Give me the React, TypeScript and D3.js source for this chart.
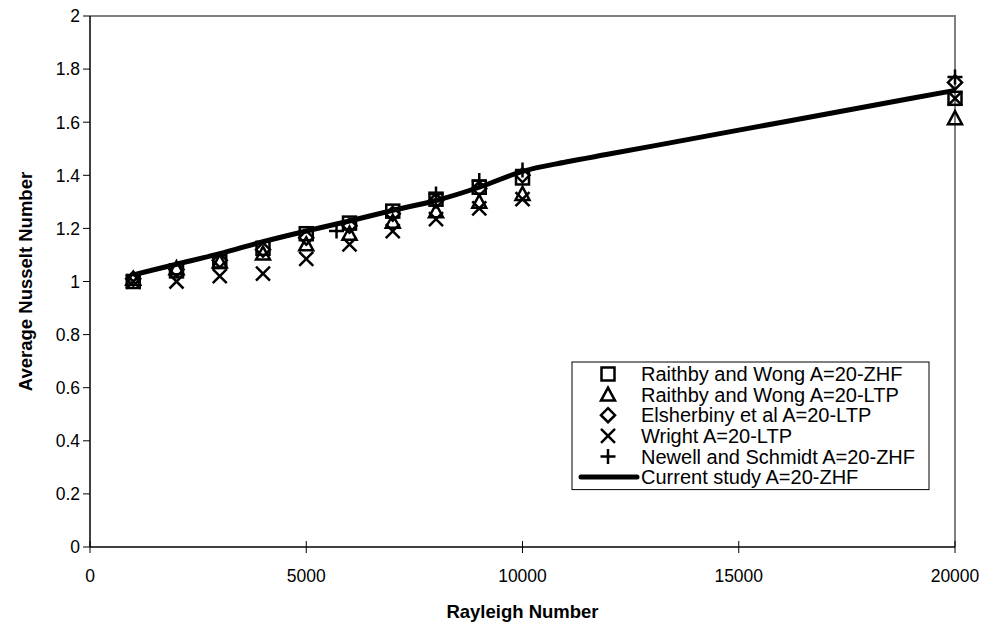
import React from "react";
import * as d3 from "d3";

const raPoints = [1000, 2000, 3000, 4000, 5000, 6000, 7000, 8000, 9000, 10000, 20000];
const raithbyZHF = [1.0, 1.04, 1.075, 1.125, 1.18, 1.22, 1.265, 1.31, 1.355, 1.39, 1.69];
const raithbyLTP = [1.01, 1.05, 1.075, 1.105, 1.14, 1.18, 1.225, 1.265, 1.3, 1.33, 1.615];
const elsherbinyLTP = [1.01, 1.045, 1.08, 1.12, 1.165, 1.21, 1.255, 1.305, 1.35, 1.4, 1.75];
const wrightLTP = [1.0, 1.0, 1.02, 1.03, 1.085, 1.14, 1.19, 1.235, 1.275, 1.31, 1.69];
const newellRa = [5700, 8000, 9000, 10000, 20000];
const newellZHF = [1.19, 1.33, 1.38, 1.42, 1.77];
const currentRa = [1000, 2000, 3000, 4000, 5000, 6000, 7000, 8000, 9000, 10000, 11000, 12000, 14000, 16000, 18000, 20000];
const currentZHF = [1.025, 1.065, 1.105, 1.15, 1.19, 1.228, 1.268, 1.305, 1.355, 1.415, 1.45, 1.48, 1.54, 1.6, 1.66, 1.72];

const xTicks = [0, 5000, 10000, 15000, 20000];
const yTicks = [0, 0.2, 0.4, 0.6, 0.8, 1, 1.2, 1.4, 1.6, 1.8, 2];

const legendLabels = [
  "Raithby and Wong A=20-ZHF",
  "Raithby and Wong A=20-LTP",
  "Elsherbiny et al A=20-LTP",
  "Wright A=20-LTP",
  "Newell and Schmidt A=20-ZHF",
  "Current study A=20-ZHF",
];

type Shape = "square" | "triangle" | "diamond" | "cross" | "plus";

function Marker({ shape, x, y }: { shape: Shape; x: number; y: number }) {
  const s = 7;
  const common = { fill: "none", stroke: "#000", strokeWidth: 2.5 };
  switch (shape) {
    case "square":
      return <rect x={x - s + 0.5} y={y - s + 0.5} width={2 * s - 1} height={2 * s - 1} {...common} />;
    case "triangle":
      return <path d={`M${x},${y - s}L${x + s},${y + s - 1}L${x - s},${y + s - 1}Z`} {...common} strokeLinejoin="miter" />;
    case "diamond":
      return <path d={`M${x},${y - s}L${x + s},${y}L${x},${y + s}L${x - s},${y}Z`} {...common} />;
    case "cross":
      return <path d={`M${x - s},${y - s}L${x + s},${y + s}M${x - s},${y + s}L${x + s},${y - s}`} {...common} />;
    case "plus":
      return <path d={`M${x - 7.5},${y}L${x + 7.5},${y}M${x},${y - 7.5}L${x},${y + 7.5}`} {...common} />;
  }
}

export default function App() {
  const W = 990, H = 629;
  const x = d3.scaleLinear().domain([0, 20000]).range([90, 955]);
  const y = d3.scaleLinear().domain([0, 2]).range([547, 16]);
  const font = "'Liberation Sans', Arial, sans-serif";

  const line = d3
    .line<number>()
    .x((_, i) => x(currentRa[i]))
    .y((d) => y(d))
    .curve(d3.curveMonotoneX);

  const series: { shape: Shape; xs: number[]; ys: number[] }[] = [
    { shape: "square", xs: raPoints, ys: raithbyZHF },
    { shape: "triangle", xs: raPoints, ys: raithbyLTP },
    { shape: "diamond", xs: raPoints, ys: elsherbinyLTP },
    { shape: "cross", xs: raPoints, ys: wrightLTP },
    { shape: "plus", xs: newellRa, ys: newellZHF },
  ];

  const legX = 572, legY = 362, legW = 357, rowH = 20.6;

  return (
    <svg width={W} height={H} style={{ position: "absolute", left: 0, top: 0, background: "#fff" }}>
      <rect width={W} height={H} fill="#fff" />
      <path d={`M${x(0)},${y(2)}H${x(20000)}V${y(0)}`} fill="none" stroke="#808080" strokeWidth={2} />
      <line x1={x(0)} x2={x(0)} y1={y(2)} y2={y(0)} stroke="#000" strokeWidth={1.5} />
      <line x1={x(0)} x2={x(20000)} y1={y(0)} y2={y(0)} stroke="#000" strokeWidth={1.5} />
      {yTicks.map((t) => (
        <g key={"y" + t}>
          <line x1={x(0) - 7} x2={x(0)} y1={y(t)} y2={y(t)} stroke="#000" strokeWidth={1} />
          <text x={80} y={y(t)} dy="0.36em" textAnchor="end" fontFamily={font} fontSize={17.5}>
            {d3.format("")(t)}
          </text>
        </g>
      ))}
      {xTicks.map((t) => (
        <g key={"x" + t}>
          <line x1={x(t)} x2={x(t)} y1={y(0) - 6} y2={y(0) + 6} stroke="#000" strokeWidth={1} />
          <text x={x(t)} y={582} textAnchor="middle" fontFamily={font} fontSize={17.5}>
            {t}
          </text>
        </g>
      ))}
      <text x={x(10000)} y={618} textAnchor="middle" fontFamily={font} fontSize={18.5} fontWeight="bold">
        Rayleigh Number
      </text>
      <text
        transform={`translate(32,${y(1)}) rotate(-90)`}
        textAnchor="middle"
        fontFamily={font}
        fontSize={18.5}
        fontWeight="bold"
      >
        Average Nusselt Number
      </text>
      <path d={line(currentZHF) || ""} fill="none" stroke="#000" strokeWidth={5} strokeLinejoin="round" />
      {series.map((s) =>
        s.ys.map((v, i) => <Marker key={s.shape + i} shape={s.shape} x={x(s.xs[i])} y={y(v)} />)
      )}
      <rect x={legX} y={legY} width={legW} height={rowH * 6 + 4} fill="#fff" stroke="#000" strokeWidth={1} />
      {legendLabels.map((lab, i) => {
        const cy = legY + 12 + i * rowH;
        return (
          <g key={lab}>
            {i < 5 ? (
              <Marker shape={series[i].shape} x={608} y={cy} />
            ) : (
              <line x1={581} x2={637} y1={cy} y2={cy} stroke="#000" strokeWidth={5} strokeLinecap="round" />
            )}
            <text x={641} y={cy} dy="0.36em" fontFamily={font} fontSize={20}>
              {lab}
            </text>
          </g>
        );
      })}
    </svg>
  );
}
